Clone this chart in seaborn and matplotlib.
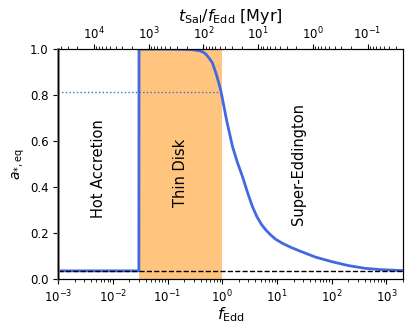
import numpy as np
import pandas as pd
import matplotlib
matplotlib.use("Agg")
import matplotlib.pyplot as plt
import seaborn as sns

# data
f_edd = [1e-3, 0.0299, 0.0301, 0.1, 0.2, 0.3, 0.38, 0.45, 0.51, 0.57, 0.66,
         0.77, 0.87, 0.95, 1.2, 1.54, 1.9, 2.34, 2.9, 3.56, 4.3, 5.2, 6.24,
         7.5, 9.5, 12.5, 18, 25, 50, 100, 200, 404, 800, 2000]
a_eq = [0.035, 0.035, 1.0, 1.0, 0.999, 0.997, 0.993, 0.987, 0.976, 0.962, 0.94,
        0.894, 0.85, 0.814, 0.69, 0.575, 0.505, 0.445, 0.375, 0.314, 0.27,
        0.237, 0.213, 0.193, 0.172, 0.155, 0.137, 0.123, 0.095, 0.075, 0.058,
        0.046, 0.04, 0.036]
thin_disk = [0.03, 1.0]
a_dotted = 0.815
a_floor = 0.035
t_sal = 45.0  # Myr

regions = ["Hot Accretion", "Thin Disk", "Super-Eddington"]
region_x = [0.0055, 0.17, 25]
region_y = [0.48, 0.46, 0.5]

df = pd.DataFrame({"f": f_edd, "a": a_eq})

fig = plt.figure(figsize=(4.15, 3.32), dpi=100)
ax = fig.add_axes([0.14, 0.16, 0.831, 0.692])

ax.axvspan(thin_disk[0], thin_disk[1], color="darkorange", alpha=0.5, lw=0)
sns.lineplot(data=df, x="f", y="a", sort=False, color="royalblue", lw=2, ax=ax)
ax.axhline(a_floor, color="black", ls="--", lw=1)
ax.plot([f_edd[0], 0.95], [a_dotted, a_dotted], color="royalblue", ls=":", lw=1)

for name, xpos, ypos in zip(regions, region_x, region_y):
    ax.text(xpos, ypos, name, rotation=90, ha="center", va="center", fontsize=10.5)

ax.set_xscale("log")
ax.set_xlim(1e-3, 2000)
ax.set_ylim(0, 1)
ax.set_xlabel(r"$f_{\rm Edd}$", fontsize=11.5, labelpad=0)
ax.set_ylabel(r"$a_{*,\rm eq}$", fontsize=10)
ax.yaxis.set_label_coords(-0.09, 0.5)
ax.tick_params(labelsize=8.5)
ax.spines["left"].set_color("gray")
ax.spines["left"].set_linewidth(2)

# top axis: t_Sal / f_Edd is linear in log space, so a reversed log axis works
ax2 = ax.twiny()
ax2.set_xscale("log")
ax2.set_xlim(t_sal / 1e-3, t_sal / 2000)
ax2.set_xlabel(r"$t_{\rm Sal}/f_{\rm Edd}$ [Myr]", fontsize=11.5, labelpad=3.5)
ax2.tick_params(labelsize=8.5, pad=1.5)

fig.savefig("out.png", dpi=100)
